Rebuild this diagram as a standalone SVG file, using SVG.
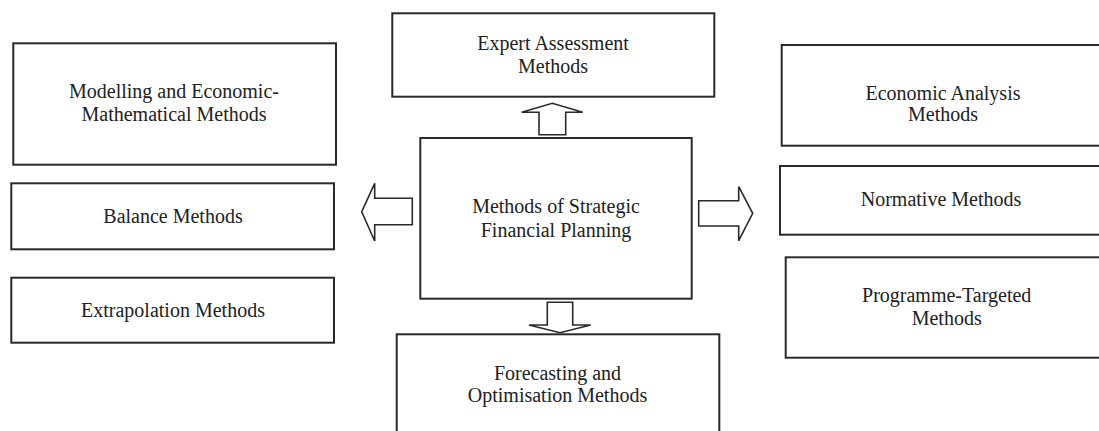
<svg xmlns="http://www.w3.org/2000/svg" width="1099" height="431" viewBox="0 0 1099 431">
  <style>
    .box { fill: #ffffff; stroke: #2a2a2a; stroke-width: 2; }
    .arrow { fill: #ffffff; stroke: #2a2a2a; stroke-width: 1.6; stroke-linejoin: miter; }
    .label { font-family: "Liberation Serif", "Times New Roman", serif; font-size: 20px; fill: #222222; text-anchor: middle; }
  </style>
  <rect width="1099" height="431" fill="#ffffff"/>

  <!-- Block arrows from the central node -->
  <g id="connectors">
    <polygon class="arrow" points="539,134.7 539,112.3 521.7,112.3 552.3,103.3 582.7,112.3 565.7,112.3 565.7,134.7"/>
    <polygon class="arrow" points="412.3,198.3 374.7,198.3 374.7,183.3 361.7,211.7 374.7,241 374.7,224.7 412.3,224.7"/>
    <polygon class="arrow" points="698.7,200.7 738.7,200.7 738.7,186.7 752.7,213.3 738.7,240.7 738.7,226 698.7,226"/>
    <polygon class="arrow" points="547.3,302.3 547.3,325 529,325 560,332.7 590.7,325 572.7,325 572.7,302.3"/>
  </g>

  <g id="node-center">
    <rect class="box" x="420.3" y="138" width="271.4" height="160.7"/>
    <text class="label" x="556" y="213.3">Methods of Strategic</text>
    <text class="label" x="556" y="236.7">Financial Planning</text>
  </g>

  <g id="node-expert">
    <rect class="box" x="392.3" y="13.3" width="322" height="83.4"/>
    <text class="label" x="553" y="49.5">Expert Assessment</text>
    <text class="label" x="553" y="72.7">Methods</text>
  </g>

  <g id="node-forecasting">
    <rect class="box" x="396.7" y="334.3" width="322.6" height="110"/>
    <text class="label" x="557.5" y="380">Forecasting and</text>
    <text class="label" x="557.5" y="401.7">Optimisation Methods</text>
  </g>

  <g id="node-modelling">
    <rect class="box" x="13.3" y="43.3" width="322.7" height="121.4"/>
    <text class="label" x="174" y="98.3">Modelling and Economic-</text>
    <text class="label" x="174" y="121">Mathematical Methods</text>
  </g>

  <g id="node-balance">
    <rect class="box" x="11.3" y="183.3" width="322.7" height="66"/>
    <text class="label" x="173" y="222.7">Balance Methods</text>
  </g>

  <g id="node-extrapolation">
    <rect class="box" x="11.3" y="277.7" width="322.7" height="65"/>
    <text class="label" x="173" y="316.7">Extrapolation Methods</text>
  </g>

  <g id="node-economic-analysis">
    <rect class="box" x="781.7" y="45" width="330" height="100.7"/>
    <text class="label" x="943" y="99.5">Economic Analysis</text>
    <text class="label" x="943" y="120.7">Methods</text>
  </g>

  <g id="node-normative">
    <rect class="box" x="780" y="166" width="330" height="68.7"/>
    <text class="label" x="941" y="206">Normative Methods</text>
  </g>

  <g id="node-programme">
    <rect class="box" x="785.7" y="257.3" width="330" height="100.4"/>
    <text class="label" x="946.7" y="301.7">Programme-Targeted</text>
    <text class="label" x="946.7" y="325">Methods</text>
  </g>
</svg>
